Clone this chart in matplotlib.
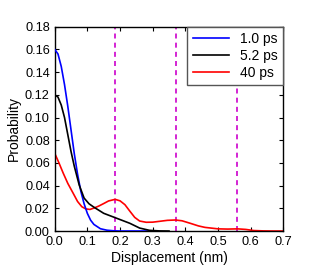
import matplotlib
matplotlib.use("Agg")
import matplotlib.pyplot as plt

plt.rcParams['font.family'] = ['Liberation Sans', 'DejaVu Sans']

# Data
x_blue = [0.0, 0.01, 0.02, 0.03, 0.04, 0.05, 0.06, 0.07, 0.08, 0.09, 0.10, 0.11,
          0.12, 0.14, 0.16, 0.18, 0.20, 0.25, 0.30]
y_blue = [0.160, 0.156, 0.145, 0.129, 0.110, 0.089, 0.068, 0.050, 0.035, 0.024,
          0.0155, 0.0095, 0.0058, 0.0020, 0.0007, 0.0002, 0.0, 0.0, 0.0]

x_black = [0.0, 0.01, 0.02, 0.03, 0.04, 0.05, 0.06, 0.075, 0.09, 0.105, 0.12,
           0.15, 0.19, 0.23, 0.26, 0.29, 0.32, 0.35]
y_black = [0.120, 0.118, 0.111, 0.100, 0.085, 0.070, 0.057, 0.0405, 0.029, 0.024,
           0.021, 0.0156, 0.0112, 0.0068, 0.0026, 0.0006, 0.0001, 0.0]

x_red = [0.0, 0.013, 0.026, 0.04, 0.057, 0.07, 0.083, 0.095, 0.108, 0.12, 0.135,
         0.15, 0.165, 0.185, 0.20, 0.215, 0.23, 0.245, 0.26, 0.28, 0.30, 0.32,
         0.345, 0.37, 0.39, 0.415, 0.44, 0.46, 0.50, 0.53, 0.56, 0.585, 0.61,
         0.64, 0.67, 0.70]
y_red = [0.0685, 0.060, 0.051, 0.042, 0.033, 0.026, 0.0214, 0.0195, 0.019, 0.0202,
         0.022, 0.0242, 0.0265, 0.0279, 0.0266, 0.0232, 0.0175, 0.0120, 0.0088,
         0.0077, 0.0078, 0.0085, 0.0094, 0.0097, 0.0090, 0.0068, 0.0045, 0.0032,
         0.0019, 0.0017, 0.0019, 0.0014, 0.0004, 0.0001, 0.0, 0.0]

vlines_x = [0.186, 0.372, 0.557]
labels = ['1.0 ps', '5.2 ps', '40 ps']

fig = plt.figure(figsize=(3.15, 2.7), dpi=100)
ax = fig.add_axes([0.1737, 0.1444, 0.7257, 0.7566])

for xv in vlines_x:
    ax.axvline(xv, color='#CC00CC', linestyle=(0, (3, 2.5)), linewidth=1.2, zorder=1)

ax.plot(x_blue, y_blue, color='#0000FF', linewidth=1.2, label=labels[0], zorder=3)
ax.plot(x_black, y_black, color='black', linewidth=1.2, label=labels[1], zorder=4)
ax.plot(x_red, y_red, color='#FF0000', linewidth=1.2, label=labels[2], zorder=2)

ax.set_xlim(0, 0.7)
ax.set_ylim(0, 0.18)
ax.set_xticks([0.0, 0.1, 0.2, 0.3, 0.4, 0.5, 0.6, 0.7])
ax.set_yticks([0.00, 0.02, 0.04, 0.06, 0.08, 0.10, 0.12, 0.14, 0.16, 0.18])
ax.xaxis.set_major_formatter(matplotlib.ticker.FormatStrFormatter('%.1f'))
ax.yaxis.set_major_formatter(matplotlib.ticker.FormatStrFormatter('%.2f'))
ax.tick_params(direction='in', top=True, right=True, length=3, width=0.8,
               labelsize=9.2, pad=3.5)
for s in ax.spines.values():
    s.set_linewidth(1.0)
    s.set_color('black')

ax.set_xlabel('Displacement (nm)', fontsize=10, labelpad=2.5)
ax.set_ylabel('Probability', fontsize=10, labelpad=3)

leg = ax.legend(loc='upper right', fontsize=10, frameon=True, fancybox=False,
                borderaxespad=0, handlelength=2.6, handletextpad=0.8,
                labelspacing=0.2, borderpad=0.4)
leg.get_frame().set_edgecolor('#555555')
leg.get_frame().set_linewidth(1.0)
leg.get_frame().set_alpha(1)

fig.savefig('out.png', dpi=100)
